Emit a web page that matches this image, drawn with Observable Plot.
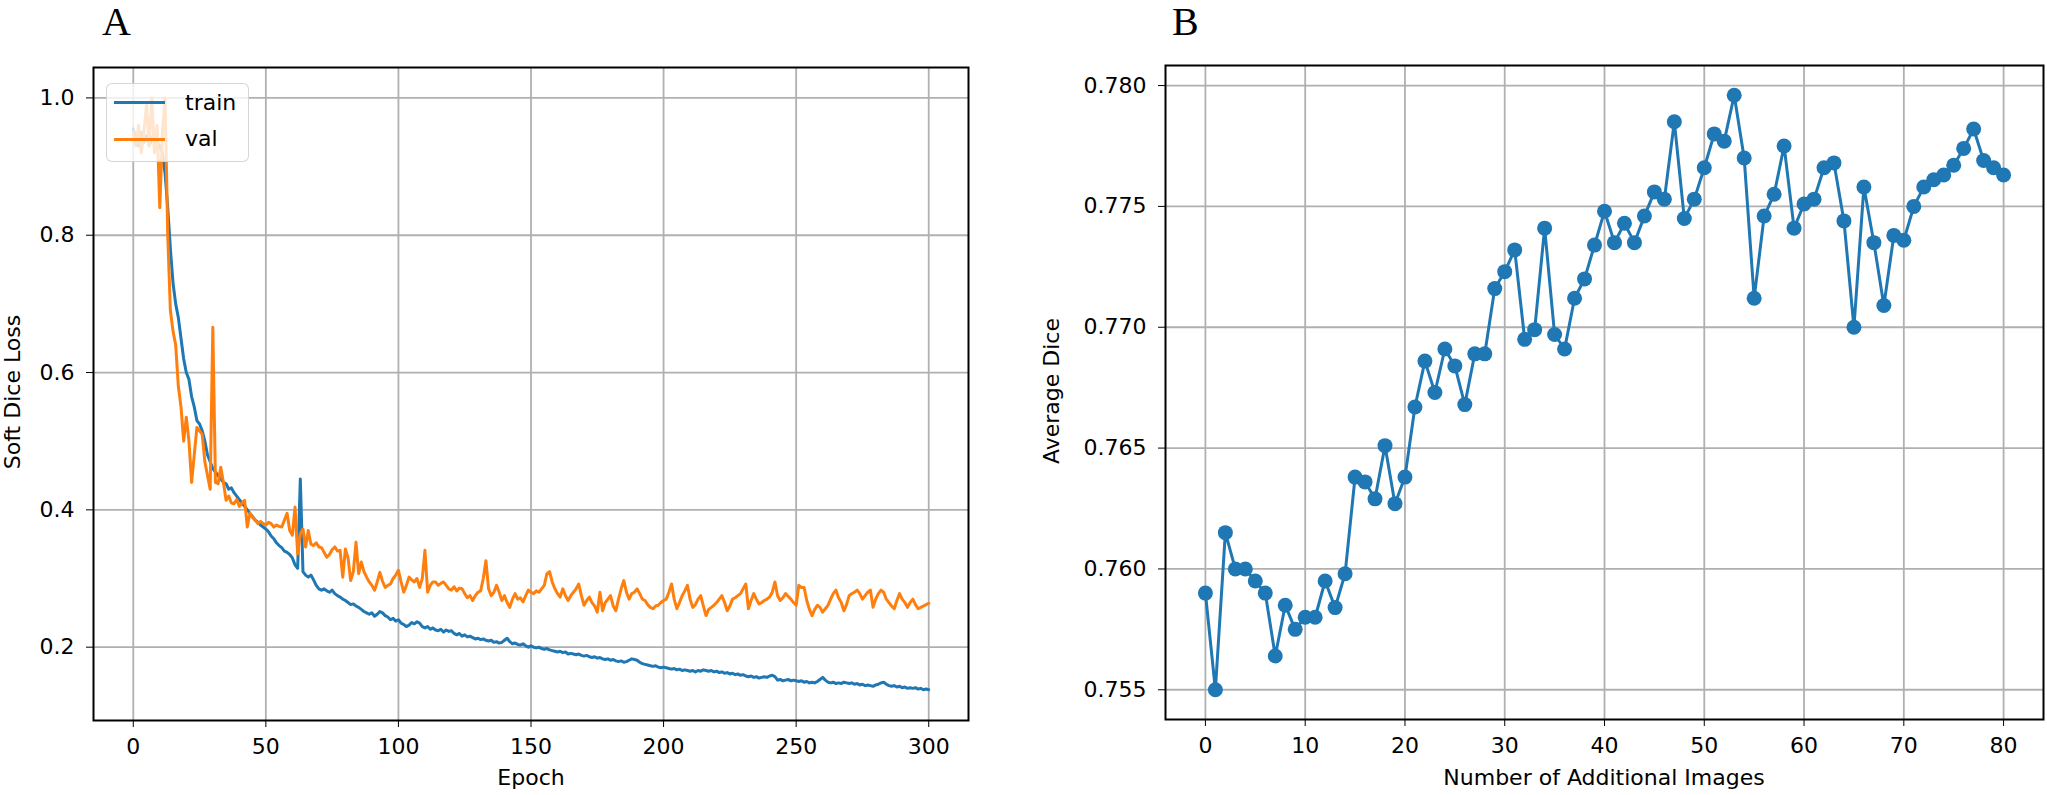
<!DOCTYPE html>
<html>
<head>
<meta charset="utf-8">
<script src="https://cdn.jsdelivr.net/npm/d3@7"></script>
<script src="https://cdn.jsdelivr.net/npm/@observablehq/plot@0.6"></script>
<style>
  html, body { margin: 0; padding: 0; background: #fff; }
  #wrap { position: relative; width: 2047px; height: 795px; background: #fff; overflow: hidden; font-family: "DejaVu Sans", sans-serif; }
  .panel { position: absolute; top: 0; }
  .letter { position: absolute; font-family: "Liberation Serif", "Times New Roman", serif; font-size: 40px; line-height: 1.12; }
  .xlabel { position: absolute; font-size: 22px; transform: translateX(-50%); white-space: nowrap; line-height: 1; }
  .ylabel { position: absolute; font-size: 22px; white-space: nowrap; line-height: 1; transform: translate(-50%, -50%) rotate(-90deg); }
  .legend { position: absolute; left: 106px; top: 83px; width: 141px; height: 77px; background: rgba(255,255,255,0.8); border: 1.5px solid rgba(204,204,204,0.8); border-radius: 6px; }
  .legend .sw { position: absolute; left: 7px; width: 51px; height: 3px; }
  .legend .tx { position: absolute; left: 78px; font-size: 22px; line-height: 1; }
</style>
</head>
<body>
<div id="wrap">
  <div id="panelA" class="panel" style="left:0px"></div>
  <div id="panelB" class="panel" style="left:1020px"></div>
  <div class="letter" style="left:102px; top:0px">A</div>
  <div class="letter" style="left:1172px; top:0px">B</div>
  <div class="ylabel" style="left:13px; top:392px">Soft Dice Loss</div>
  <div class="ylabel" style="left:1052px; top:391px">Average Dice</div>
  <div class="xlabel" style="left:531px; top:767px">Epoch</div>
  <div class="xlabel" style="left:1604px; top:767px">Number of Additional Images</div>
  <div class="legend">
    <div class="sw" style="top:17px; background:#1f77b4"></div>
    <div class="tx" style="top:8px">train</div>
    <div class="sw" style="top:54px; background:#ff7f0e"></div>
    <div class="tx" style="top:44px">val</div>
  </div>
</div>
<script>
// ---------- Panel A data: soft dice loss per epoch (0..300) ----------
const trainLoss = [
  0.955, 0.94, 0.93, 0.95, 0.935, 0.945, 0.93, 0.94, 0.95, 0.935,
  0.93, 0.92, 0.89, 0.84, 0.78, 0.73, 0.70, 0.68, 0.65, 0.62,
  0.60, 0.59, 0.565, 0.55, 0.53, 0.525, 0.515, 0.50, 0.48, 0.47,
  0.46, 0.455, 0.45, 0.445, 0.44, 0.438, 0.43, 0.432, 0.425, 0.42,
  0.415, 0.41, 0.405, 0.40, 0.395, 0.39, 0.385, 0.382, 0.378, 0.375,
  0.372, 0.368, 0.362, 0.358, 0.352, 0.348, 0.345, 0.34, 0.338, 0.335,
  0.33, 0.32, 0.315, 0.445, 0.31, 0.305, 0.302, 0.305, 0.298, 0.29,
  0.285, 0.283, 0.285, 0.282, 0.28, 0.283, 0.278, 0.275, 0.273, 0.27,
  0.268, 0.265, 0.262, 0.263, 0.26, 0.258, 0.255, 0.252, 0.25, 0.248,
  0.25, 0.245, 0.248, 0.252, 0.25, 0.246, 0.244, 0.24, 0.242, 0.238,
  0.24, 0.235, 0.233, 0.23, 0.232, 0.236, 0.234, 0.237, 0.235, 0.23,
  0.228, 0.23, 0.226, 0.228, 0.225, 0.224, 0.226, 0.222, 0.225, 0.223,
  0.224, 0.22, 0.218, 0.22, 0.216, 0.218, 0.215, 0.216, 0.214, 0.212,
  0.213, 0.211, 0.212, 0.21, 0.209, 0.21, 0.207, 0.208, 0.206, 0.207,
  0.21, 0.213, 0.208, 0.205, 0.206, 0.204, 0.203, 0.205, 0.202, 0.20,
  0.202, 0.20, 0.199, 0.20, 0.198, 0.197, 0.198, 0.196, 0.195, 0.194,
  0.193, 0.194, 0.192, 0.193, 0.19, 0.191, 0.19, 0.189, 0.19, 0.188,
  0.187, 0.188, 0.186, 0.185, 0.186, 0.184, 0.185, 0.183, 0.182, 0.183,
  0.181, 0.182, 0.18, 0.179, 0.18, 0.178, 0.179, 0.181, 0.183, 0.182,
  0.181, 0.178, 0.176, 0.175, 0.174, 0.173, 0.172, 0.173, 0.171, 0.17,
  0.171, 0.17, 0.169, 0.168, 0.169, 0.167, 0.168, 0.166, 0.167, 0.166,
  0.165, 0.166, 0.164, 0.166, 0.165, 0.167, 0.166, 0.165, 0.166, 0.164,
  0.165, 0.163, 0.164, 0.162, 0.163, 0.161, 0.162, 0.16, 0.161, 0.159,
  0.16, 0.158, 0.157, 0.158, 0.156, 0.157, 0.155, 0.156, 0.157, 0.156,
  0.158, 0.159, 0.157, 0.152, 0.153, 0.151, 0.152, 0.153, 0.151, 0.152,
  0.151, 0.15, 0.151, 0.149, 0.15, 0.148, 0.149, 0.148, 0.15, 0.153,
  0.156, 0.152, 0.149, 0.148, 0.149, 0.147, 0.148, 0.147, 0.149, 0.148,
  0.147, 0.148, 0.146, 0.147, 0.145, 0.146, 0.144, 0.145, 0.144, 0.143,
  0.145, 0.146, 0.148, 0.149, 0.146, 0.144, 0.143, 0.144, 0.142, 0.143,
  0.141, 0.142, 0.14, 0.141, 0.14, 0.141, 0.139, 0.14, 0.138, 0.139,
  0.138
];
const valLoss = [
  0.95, 0.93, 0.96, 0.92, 0.95, 0.99, 0.93, 1.0, 0.92, 0.96,
  0.84, 0.95, 1.0, 0.80, 0.69, 0.66, 0.64, 0.58, 0.55, 0.50,
  0.535, 0.50, 0.44, 0.48, 0.52, 0.515, 0.51, 0.47, 0.45, 0.43,
  0.666, 0.44, 0.438, 0.462, 0.44, 0.414, 0.42, 0.41, 0.409, 0.415,
  0.405, 0.41, 0.414, 0.375, 0.395, 0.389, 0.385, 0.38, 0.383, 0.38,
  0.378, 0.382, 0.38, 0.375, 0.378, 0.376, 0.375, 0.385, 0.395, 0.37,
  0.363, 0.404, 0.336, 0.365, 0.372, 0.346, 0.37, 0.35, 0.348, 0.352,
  0.346, 0.345, 0.338, 0.331, 0.335, 0.342, 0.346, 0.34, 0.341, 0.302,
  0.343, 0.33, 0.297, 0.31, 0.353, 0.307, 0.324, 0.31, 0.302, 0.295,
  0.29, 0.283, 0.295, 0.309, 0.296, 0.287, 0.29, 0.292, 0.30, 0.305,
  0.312, 0.295, 0.28, 0.29, 0.302, 0.298, 0.295, 0.30, 0.287, 0.30,
  0.341, 0.28, 0.29, 0.295, 0.295, 0.29, 0.293, 0.295, 0.29, 0.285,
  0.283, 0.288, 0.282, 0.286, 0.285, 0.278, 0.272, 0.275, 0.268, 0.275,
  0.28, 0.282, 0.30, 0.326, 0.285, 0.275, 0.28, 0.29, 0.28, 0.268,
  0.275, 0.265, 0.258, 0.27, 0.278, 0.27, 0.272, 0.266, 0.275, 0.283,
  0.28, 0.278, 0.282, 0.28, 0.285, 0.29, 0.307, 0.31, 0.295, 0.285,
  0.278, 0.273, 0.285, 0.275, 0.268, 0.275, 0.28, 0.285, 0.292, 0.275,
  0.261, 0.268, 0.273, 0.265, 0.26, 0.251, 0.28, 0.253, 0.265, 0.27,
  0.275, 0.26, 0.253, 0.27, 0.285, 0.297, 0.28, 0.27, 0.278, 0.28,
  0.285, 0.278, 0.27, 0.268, 0.262, 0.258, 0.256, 0.26, 0.261, 0.265,
  0.268, 0.27, 0.28, 0.292, 0.27, 0.256, 0.265, 0.275, 0.282, 0.29,
  0.27, 0.258, 0.262, 0.27, 0.275, 0.26, 0.246, 0.255, 0.258, 0.261,
  0.265, 0.27, 0.275, 0.265, 0.253, 0.26, 0.27, 0.272, 0.275, 0.278,
  0.285, 0.292, 0.256, 0.268, 0.278, 0.27, 0.263, 0.265, 0.268, 0.27,
  0.273, 0.28, 0.295, 0.275, 0.268, 0.272, 0.278, 0.274, 0.27, 0.265,
  0.261, 0.29, 0.287, 0.287, 0.268, 0.255, 0.246, 0.255, 0.261, 0.258,
  0.251, 0.256, 0.261, 0.27, 0.278, 0.283, 0.272, 0.265, 0.253, 0.262,
  0.275, 0.278, 0.28, 0.283, 0.278, 0.27, 0.275, 0.28, 0.283, 0.258,
  0.27, 0.278, 0.283, 0.28, 0.27, 0.265, 0.26, 0.256, 0.268, 0.278,
  0.27, 0.265, 0.258, 0.265, 0.27, 0.262, 0.256, 0.258, 0.26, 0.262,
  0.264
];
const epochTicks = [0, 50, 100, 150, 200, 250, 300];
const lossTicks = [0.2, 0.4, 0.6, 0.8, 1.0];

// ---------- Panel B data: average dice vs number of additional images (0..80) ----------
const diceValues = [
  0.7590, 0.7550, 0.7615, 0.7600, 0.7600, 0.7595, 0.7590, 0.7564, 0.7585, 0.7575,
  0.7580, 0.7580, 0.7595, 0.7584, 0.7598, 0.7638, 0.7636, 0.7629, 0.7651, 0.7627,
  0.7638, 0.7667, 0.7686, 0.7673, 0.7691, 0.7684, 0.7668, 0.7689, 0.7689, 0.7716,
  0.7723, 0.7732, 0.7695, 0.7699, 0.7741, 0.7697, 0.7691, 0.7712, 0.7720, 0.7734,
  0.7748, 0.7735, 0.7743, 0.7735, 0.7746, 0.7756, 0.7753, 0.7785, 0.7745, 0.7753,
  0.7766, 0.7780, 0.7777, 0.7796, 0.7770, 0.7712, 0.7746, 0.7755, 0.7775, 0.7741,
  0.7751, 0.7753, 0.7766, 0.7768, 0.7744, 0.7700, 0.7758, 0.7735, 0.7709, 0.7738,
  0.7736, 0.7750, 0.7758, 0.7761, 0.7763, 0.7767, 0.7774, 0.7782, 0.7769, 0.7766,
  0.7763
];
const imageTicks = [0, 10, 20, 30, 40, 50, 60, 70, 80];
const diceTicks = [0.755, 0.760, 0.765, 0.770, 0.775, 0.780];

const blue = "#1f77b4", orange = "#ff7f0e", gridColor = "#b0b0b0";

const epochs = trainLoss.map((_, i) => i);
const lossTable = epochs.map(i => ({epoch: i, train: trainLoss[i], val: valLoss[i]}));
const diceTable = diceValues.map((v, i) => ({n: i, dice: v}));

const common = {
  style: {fontFamily: "DejaVu Sans, sans-serif", fontSize: "22px", background: "transparent", color: "black", overflow: "visible"}
};

const chartA = Plot.plot({
  ...common,
  width: 1000, height: 795,
  marginLeft: 93, marginRight: 32, marginTop: 67, marginBottom: 75,
  x: {domain: [-15, 315], label: null},
  y: {domain: [0.0932, 1.0443], label: null},
  marks: [
    Plot.gridX(epochTicks, {stroke: gridColor, strokeOpacity: 1, strokeWidth: 1.8}),
    Plot.gridY(lossTicks, {stroke: gridColor, strokeOpacity: 1, strokeWidth: 1.8}),
    Plot.line(lossTable, {x: "epoch", y: "train", stroke: blue, strokeWidth: 3}),
    Plot.line(lossTable, {x: "epoch", y: "val", stroke: orange, strokeWidth: 3}),
    Plot.axisX(epochTicks, {tickSize: 7, tickPadding: 11, fontSize: 22, label: null, tickFormat: d3.format("d")}),
    Plot.axisY(lossTicks, {tickSize: 7, tickPadding: 12, fontSize: 22, label: null, tickFormat: d3.format(".1f")}),
    Plot.frame({stroke: "black", strokeWidth: 2})
  ]
});
document.getElementById("panelA").appendChild(chartA);

const chartB = Plot.plot({
  ...common,
  width: 1027, height: 795,
  marginLeft: 145, marginRight: 4, marginTop: 65, marginBottom: 76,
  x: {domain: [-4, 84], label: null},
  y: {domain: [0.75377, 0.78083], label: null},
  marks: [
    Plot.gridX(imageTicks, {stroke: gridColor, strokeOpacity: 1, strokeWidth: 1.8}),
    Plot.gridY(diceTicks, {stroke: gridColor, strokeOpacity: 1, strokeWidth: 1.8}),
    Plot.line(diceTable, {x: "n", y: "dice", stroke: blue, strokeWidth: 3}),
    Plot.dot(diceTable, {x: "n", y: "dice", fill: blue, r: 7.5, stroke: null}),
    Plot.axisX(imageTicks, {tickSize: 7, tickPadding: 11, fontSize: 22, label: null, tickFormat: d3.format("d")}),
    Plot.axisY(diceTicks, {tickSize: 7, tickPadding: 12, fontSize: 22, label: null, tickFormat: d3.format(".3f")}),
    Plot.frame({stroke: "black", strokeWidth: 2})
  ]
});
document.getElementById("panelB").appendChild(chartB);
</script>
</body>
</html>
